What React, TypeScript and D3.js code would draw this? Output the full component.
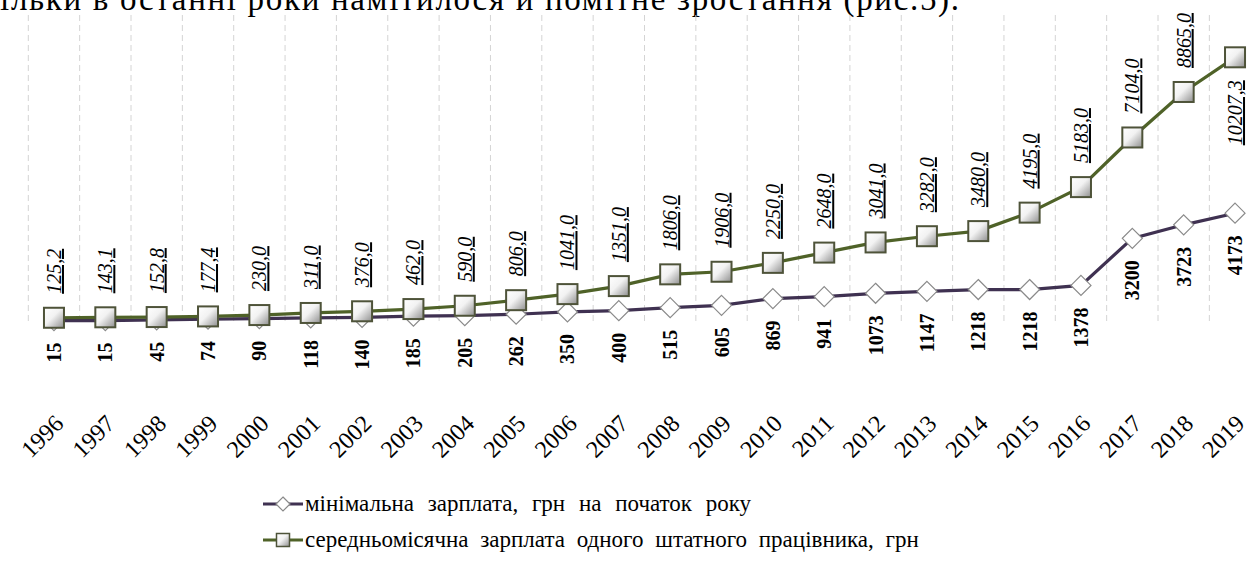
import React from "react";
import * as d3 from "d3";

// Years on the category axis
const years = [
  "1996", "1997", "1998", "1999", "2000", "2001", "2002", "2003",
  "2004", "2005", "2006", "2007", "2008", "2009", "2010", "2011",
  "2012", "2013", "2014", "2015", "2016", "2017", "2018", "2019",
];

// Minimum wage at the start of the year, UAH
const minWage = [
  15, 15, 45, 74, 90, 118, 140, 185, 205, 262, 350, 400,
  515, 605, 869, 941, 1073, 1147, 1218, 1218, 1378, 3200, 3723, 4173,
];

// Average monthly wage of a full-time employee, UAH
const avgWage = [
  125.2, 143.1, 152.8, 177.4, 230.0, 311.0, 376.0, 462.0, 590.0, 806.0,
  1041.0, 1351.0, 1806.0, 1906.0, 2250.0, 2648.0, 3041.0, 3282.0, 3480.0,
  4195.0, 5183.0, 7104.0, 8865.0, 10207.3,
];

const legendLabels = [
  "мінімальна зарплата, грн на початок року",
  "середньомісячна зарплата одного штатного працівника, грн",
];

const headline = "тільки в останні роки намітилося й помітне зростання (рис.5).";

const W = 1258;
const H = 563;
const SERIF = "'Liberation Serif', 'Times New Roman', Times, serif";
const MIN_COLOR = "#3f3151";
const AVG_COLOR = "#4f6228";
const txt = { fontFamily: SERIF } as React.CSSProperties;

export default function App() {
  const x = d3.scaleBand<string>().domain(years).range([28.3, 1260.7]).padding(0);
  const cx = (yr: string) => (x(yr) as number) + x.bandwidth() / 2;
  const y = d3.scaleLinear().domain([0, 12000]).range([321, 11]);

  const minPts = years.map((yr, i) => ({ yr, v: minWage[i] }));
  const avgPts = years.map((yr, i) => ({ yr, v: avgWage[i] }));

  const line = d3
    .line<{ yr: string; v: number }>()
    .x((d) => cx(d.yr))
    .y((d) => y(d.v));

  const fmtAvg = (v: number) => d3.format(".1f")(v).replace(".", ",");
  const diamond = (px: number, py: number, r: number) =>
    `M${px},${py - r}L${px + r},${py}L${px},${py + r}L${px - r},${py}Z`;

  return (
    <svg
      width={W}
      height={H}
      style={{ position: "absolute", left: 0, top: 0, display: "block", background: "#fff", fontFamily: SERIF }}
    >
      <defs>
        <linearGradient id="sq" x1="0" y1="0" x2="1" y2="1">
          <stop offset="0" stopColor="#ffffff" />
          <stop offset="0.45" stopColor="#f2f2f2" />
          <stop offset="1" stopColor="#8e8e8e" />
        </linearGradient>
      </defs>

      {/* running text line above the figure */}
      <text x={-16} y={10} fontSize={33} fill="#000" textLength={975} lengthAdjust="spacing" style={txt}>
        {headline}
      </text>

      {/* dashed vertical gridlines at category boundaries */}
      {years.map((yr) => (
        <line
          key={"g" + yr}
          x1={x(yr) as number}
          x2={x(yr) as number}
          y1={15}
          y2={321}
          stroke="#d4d4d4"
          strokeWidth={1}
          strokeDasharray="6,4"
        />
      ))}

      {/* minimum wage series */}
      <path d={line(minPts) as string} fill="none" stroke={MIN_COLOR} strokeWidth={3.2} />
      {minPts.map((d) => (
        <path
          key={"d" + d.yr}
          d={diamond(cx(d.yr), y(d.v), 10)}
          fill="#fff"
          stroke="#8a8a8a"
          strokeWidth={1.2}
        />
      ))}

      {/* average wage series */}
      <path d={line(avgPts) as string} fill="none" stroke={AVG_COLOR} strokeWidth={3.2} />
      {avgPts.map((d) => (
        <rect
          key={"s" + d.yr}
          x={cx(d.yr) - 10}
          y={y(d.v) - 10}
          width={20}
          height={20}
          fill="url(#sq)"
          stroke="#4e5339"
          strokeWidth={2}
        />
      ))}

      {/* minimum wage value labels (below points) */}
      {minPts.map((d) => {
        const px = cx(d.yr);
        const py = y(d.v) + 22;
        return (
          <text
            key={"ml" + d.yr}
            transform={`translate(${px},${py}) rotate(-90)`}
            textAnchor="end"
            dy="0.35em"
            fontSize={20}
            fontWeight="bold"
            fill="#000"
            style={txt}
          >
            {d.v}
          </text>
        );
      })}

      {/* average wage value labels (above points, last one below) */}
      {avgPts.map((d, i) => {
        const px = cx(d.yr);
        const below = i === avgPts.length - 1;
        const py = below ? y(d.v) + 23 : y(d.v) - 24;
        return (
          <text
            key={"al" + d.yr}
            transform={`translate(${px},${py}) rotate(-90)`}
            textAnchor={below ? "end" : "start"}
            dy="0.35em"
            fontSize={20}
            fontStyle="italic"
            textDecoration="underline"
            fill="#000"
            style={txt}
          >
            {fmtAvg(d.v)}
          </text>
        );
      })}

      {/* category axis labels */}
      {years.map((yr) => (
        <text
          key={"t" + yr}
          transform={`translate(${cx(yr) + 5},${419}) rotate(-45)`}
          textAnchor="end"
          dy="0.35em"
          fontSize={24}
          fill="#000"
          style={txt}
        >
          {yr}
        </text>
      ))}

      {/* legend */}
      <g>
        <line x1={263} x2={303} y1={504} y2={504} stroke={MIN_COLOR} strokeWidth={3} />
        <path d={diamond(283, 504, 7)} fill="#fff" stroke="#8a8a8a" strokeWidth={1.2} />
        <text x={305} y={504} dy="0.32em" fontSize={23} wordSpacing={8} fill="#000" style={txt}>
          {legendLabels[0]}
        </text>
        <line x1={263} x2={303} y1={540} y2={540} stroke={AVG_COLOR} strokeWidth={3} />
        <rect x={276.5} y={533.5} width={13} height={13} fill="url(#sq)" stroke="#4e5339" strokeWidth={1.5} />
        <text x={305} y={540} dy="0.32em" fontSize={23} wordSpacing={6} fill="#000" style={txt}>
          {legendLabels[1]}
        </text>
      </g>
    </svg>
  );
}
